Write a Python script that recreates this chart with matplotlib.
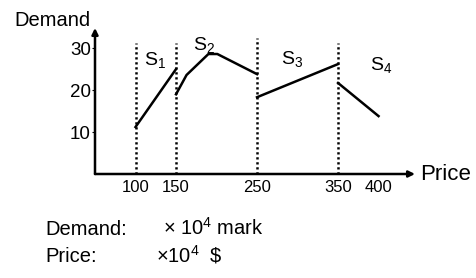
import matplotlib
matplotlib.use("Agg")
import matplotlib.pyplot as plt

plt.rcParams['font.family'] = ['Liberation Sans', 'DejaVu Sans']
plt.rcParams['mathtext.fontset'] = 'custom'
plt.rcParams['mathtext.rm'] = 'Liberation Sans'

# segment data (price, demand)
s1_price = [100, 150]
s1_demand = [11.2, 25.0]
s2_price = [150, 163, 190, 201, 250]
s2_demand = [19.0, 23.6, 28.6, 28.6, 23.8]
s3_price = [250, 350]
s3_demand = [18.3, 26.2]
s4_price = [350, 400]
s4_demand = [21.7, 13.8]

boundaries = [100, 150, 250, 350]
boundary_tops = [31.2, 31.2, 32.4, 31.2]
x_ticks = [100, 150, 250, 350, 400]
y_ticks = [10, 20, 30]
seg_labels = ['S$_\\mathregular{1}$', 'S$_\\mathregular{2}$',
              'S$_\\mathregular{3}$', 'S$_\\mathregular{4}$']

W, H = 476, 278
fig = plt.figure(figsize=(W / 100, H / 100), dpi=100)
ax = fig.add_axes([95 / W, 1 - 174 / H, 320 / W, 146 / H])
ax.set_xlim(50, 445)
ax.set_ylim(0, 34.8)

for x, top in zip(boundaries, boundary_tops):
    ax.plot([x, x], [0, top], color='k', lw=1.8, ls=(0, (0.9, 1.1)))

for px, dy in [(s1_price, s1_demand), (s2_price, s2_demand),
               (s3_price, s3_demand), (s4_price, s4_demand)]:
    ax.plot(px, dy, color='k', lw=1.8)

# axes with arrows
for s in ax.spines.values():
    s.set_visible(False)
ax.annotate('', xy=(1, 0), xytext=(0, 0), xycoords='axes fraction',
            arrowprops=dict(arrowstyle='-|>', lw=1.8, color='k',
                            mutation_scale=9, shrinkA=0, shrinkB=0))
ax.annotate('', xy=(0, 1), xytext=(0, 0), xycoords='axes fraction',
            arrowprops=dict(arrowstyle='-|>', lw=1.8, color='k',
                            mutation_scale=9, shrinkA=0, shrinkB=0))

ax.set_xticks(x_ticks)
ax.set_yticks(y_ticks)
ax.tick_params(axis='x', length=0, labelsize=12, pad=4)
ax.tick_params(axis='y', length=2, labelsize=13.5, pad=1)

label_pos = [(124, 26.9), (184.6, 30.5), (293, 27.1), (403, 25.7)]
for lab, (x, y) in zip(seg_labels, label_pos):
    ax.text(x, y, lab, fontsize=14, ha='center', va='center')

fig.text(14 / W, 1 - 26 / H, 'Demand', fontsize=14.5, ha='left', va='baseline')
fig.text(420 / W, 1 - 180 / H, 'Price', fontsize=16, ha='left', va='baseline')

fig.text(45 / W, 1 - 235 / H, 'Demand:', fontsize=14.5, ha='left', va='baseline')
fig.text(163 / W, 1 - 235 / H, '\u00d7 10$^\\mathregular{4}$ mark', fontsize=14.5,
         ha='left', va='baseline')
fig.text(45 / W, 1 - 262 / H, 'Price:', fontsize=14.5, ha='left', va='baseline')
fig.text(156 / W, 1 - 262 / H, '\u00d710$^\\mathregular{4}$  \\$', fontsize=14.5,
         ha='left', va='baseline')

fig.savefig('out.png', dpi=100)
